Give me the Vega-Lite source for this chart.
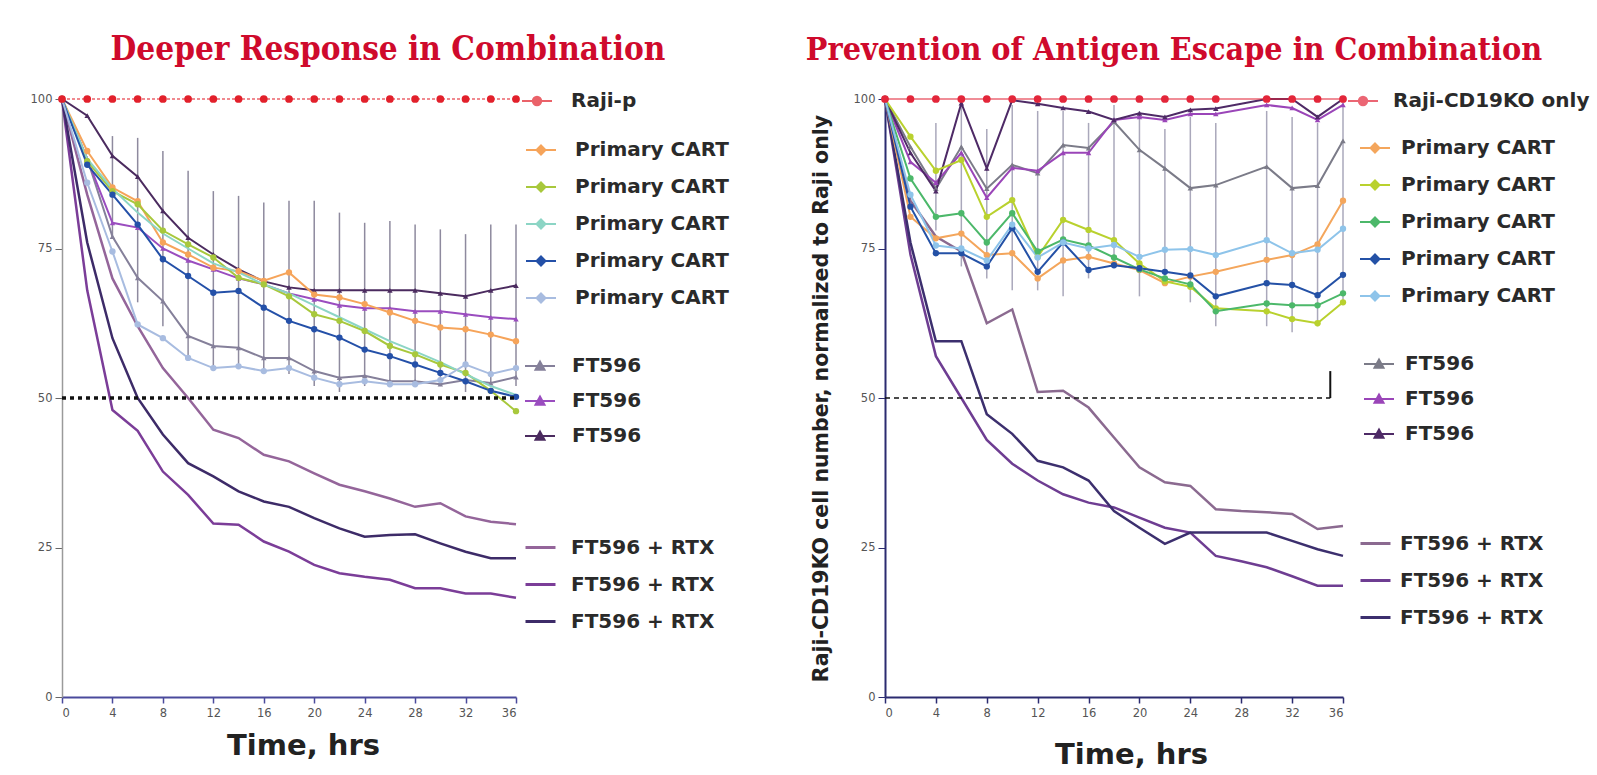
{
"$schema":"https://vega.github.io/schema/vega-lite/v6.json",
"padding":{"left":30,"top":34,"right":0,"bottom":0},
"background":"white",
"spacing":76,
"config":{
 "view":{"stroke":null},
 "axis":{"grid":false,"labelFont":"DejaVu Sans","labelFontSize":11.5,"labelColor":"#555","titleFont":"DejaVu Sans","titleFontWeight":"bold","titleColor":"#222"},
 "legend":{"labelFont":"DejaVu Sans","labelFontWeight":"bold","labelFontSize":20,"labelColor":"#2a2a2a","padding":0,"labelLimit":400},
 "title":{"font":"DejaVu Serif Condensed","fontWeight":"bold","fontSize":32,"color":"#cf0a2c"}
},
"datasets":{
"left":[
{"s":"Raji","t":0,"v":100},{"s":"Raji","t":2,"v":100},{"s":"Raji","t":4,"v":100},{"s":"Raji","t":6,"v":100},{"s":"Raji","t":8,"v":100},{"s":"Raji","t":10,"v":100},{"s":"Raji","t":12,"v":100},{"s":"Raji","t":14,"v":100},{"s":"Raji","t":16,"v":100},{"s":"Raji","t":18,"v":100},{"s":"Raji","t":20,"v":100},{"s":"Raji","t":22,"v":100},{"s":"Raji","t":24,"v":100},{"s":"Raji","t":26,"v":100},{"s":"Raji","t":28,"v":100},{"s":"Raji","t":30,"v":100},{"s":"Raji","t":32,"v":100},{"s":"Raji","t":34,"v":100},{"s":"Raji","t":36,"v":100},
{"s":"CART1","t":0,"v":100},{"s":"CART1","t":2,"v":91.3},{"s":"CART1","t":4,"v":85.2},{"s":"CART1","t":6,"v":82.9},{"s":"CART1","t":8,"v":76},{"s":"CART1","t":10,"v":74},{"s":"CART1","t":12,"v":71.8},{"s":"CART1","t":14,"v":71.2},{"s":"CART1","t":16,"v":69.6},{"s":"CART1","t":18,"v":71},{"s":"CART1","t":20,"v":67.3},{"s":"CART1","t":22,"v":66.8},{"s":"CART1","t":24,"v":65.7},{"s":"CART1","t":26,"v":64.3},{"s":"CART1","t":28,"v":62.9},{"s":"CART1","t":30,"v":61.8},{"s":"CART1","t":32,"v":61.5},{"s":"CART1","t":34,"v":60.6},{"s":"CART1","t":36,"v":59.5},
{"s":"CART2","t":0,"v":100},{"s":"CART2","t":2,"v":89.6},{"s":"CART2","t":4,"v":84.6},{"s":"CART2","t":6,"v":82.4},{"s":"CART2","t":8,"v":78},{"s":"CART2","t":10,"v":75.7},{"s":"CART2","t":12,"v":73.5},{"s":"CART2","t":14,"v":70.1},{"s":"CART2","t":16,"v":69},{"s":"CART2","t":18,"v":67},{"s":"CART2","t":20,"v":64},{"s":"CART2","t":22,"v":62.9},{"s":"CART2","t":24,"v":61.2},{"s":"CART2","t":26,"v":58.7},{"s":"CART2","t":28,"v":57.3},{"s":"CART2","t":30,"v":55.6},{"s":"CART2","t":32,"v":54.2},{"s":"CART2","t":34,"v":51.2},{"s":"CART2","t":36,"v":47.8},
{"s":"CART3","t":0,"v":100},{"s":"CART3","t":2,"v":90},{"s":"CART3","t":4,"v":85},{"s":"CART3","t":6,"v":81},{"s":"CART3","t":8,"v":77.5},{"s":"CART3","t":10,"v":75},{"s":"CART3","t":12,"v":72.5},{"s":"CART3","t":14,"v":71},{"s":"CART3","t":16,"v":69},{"s":"CART3","t":18,"v":67.5},{"s":"CART3","t":20,"v":65.5},{"s":"CART3","t":22,"v":63.5},{"s":"CART3","t":24,"v":61.5},{"s":"CART3","t":26,"v":59.5},{"s":"CART3","t":28,"v":57.8},{"s":"CART3","t":30,"v":56},{"s":"CART3","t":32,"v":54},{"s":"CART3","t":34,"v":52},{"s":"CART3","t":36,"v":50.5},
{"s":"CART4","t":0,"v":100},{"s":"CART4","t":2,"v":89},{"s":"CART4","t":4,"v":84},{"s":"CART4","t":6,"v":79},{"s":"CART4","t":8,"v":73.2},{"s":"CART4","t":10,"v":70.4},{"s":"CART4","t":12,"v":67.6},{"s":"CART4","t":14,"v":67.9},{"s":"CART4","t":16,"v":65.1},{"s":"CART4","t":18,"v":62.9},{"s":"CART4","t":20,"v":61.5},{"s":"CART4","t":22,"v":60.1},{"s":"CART4","t":24,"v":58.1},{"s":"CART4","t":26,"v":57},{"s":"CART4","t":28,"v":55.6},{"s":"CART4","t":30,"v":54.2},{"s":"CART4","t":32,"v":52.8},{"s":"CART4","t":34,"v":51.2},{"s":"CART4","t":36,"v":50.2},
{"s":"CART5","t":0,"v":100},{"s":"CART5","t":2,"v":86},{"s":"CART5","t":4,"v":74.5},{"s":"CART5","t":6,"v":62.3},{"s":"CART5","t":8,"v":60},{"s":"CART5","t":10,"v":56.7},{"s":"CART5","t":12,"v":55},{"s":"CART5","t":14,"v":55.3},{"s":"CART5","t":16,"v":54.5},{"s":"CART5","t":18,"v":55},{"s":"CART5","t":20,"v":53.4},{"s":"CART5","t":22,"v":52.3},{"s":"CART5","t":24,"v":52.8},{"s":"CART5","t":26,"v":52.3},{"s":"CART5","t":28,"v":52.3},{"s":"CART5","t":30,"v":53},{"s":"CART5","t":32,"v":55.6},{"s":"CART5","t":34,"v":54},{"s":"CART5","t":36,"v":55},
{"s":"FT1","t":0,"v":100},{"s":"FT1","t":2,"v":90},{"s":"FT1","t":4,"v":77},{"s":"FT1","t":6,"v":70.1},{"s":"FT1","t":8,"v":66.2},{"s":"FT1","t":10,"v":60.4},{"s":"FT1","t":12,"v":58.7},{"s":"FT1","t":14,"v":58.4},{"s":"FT1","t":16,"v":56.7},{"s":"FT1","t":18,"v":56.7},{"s":"FT1","t":20,"v":54.5},{"s":"FT1","t":22,"v":53.4},{"s":"FT1","t":24,"v":53.7},{"s":"FT1","t":26,"v":52.8},{"s":"FT1","t":28,"v":52.8},{"s":"FT1","t":30,"v":52.3},{"s":"FT1","t":32,"v":53},{"s":"FT1","t":34,"v":52.5},{"s":"FT1","t":36,"v":53.5},
{"s":"FT2","t":0,"v":100},{"s":"FT2","t":2,"v":90},{"s":"FT2","t":4,"v":79.3},{"s":"FT2","t":6,"v":78.5},{"s":"FT2","t":8,"v":75},{"s":"FT2","t":10,"v":73},{"s":"FT2","t":12,"v":71.5},{"s":"FT2","t":14,"v":70},{"s":"FT2","t":16,"v":69},{"s":"FT2","t":18,"v":67.5},{"s":"FT2","t":20,"v":66.5},{"s":"FT2","t":22,"v":65.5},{"s":"FT2","t":24,"v":65},{"s":"FT2","t":26,"v":65},{"s":"FT2","t":28,"v":64.5},{"s":"FT2","t":30,"v":64.5},{"s":"FT2","t":32,"v":64},{"s":"FT2","t":34,"v":63.5},{"s":"FT2","t":36,"v":63.2},
{"s":"FT3","t":0,"v":100},{"s":"FT3","t":2,"v":97.2},{"s":"FT3","t":4,"v":90.5},{"s":"FT3","t":6,"v":87},{"s":"FT3","t":8,"v":81.3},{"s":"FT3","t":10,"v":76.8},{"s":"FT3","t":12,"v":74},{"s":"FT3","t":14,"v":71.5},{"s":"FT3","t":16,"v":69.5},{"s":"FT3","t":18,"v":68.5},{"s":"FT3","t":20,"v":68},{"s":"FT3","t":22,"v":68},{"s":"FT3","t":24,"v":68},{"s":"FT3","t":26,"v":68},{"s":"FT3","t":28,"v":68},{"s":"FT3","t":30,"v":67.5},{"s":"FT3","t":32,"v":67},{"s":"FT3","t":34,"v":68},{"s":"FT3","t":36,"v":68.8},
{"s":"RTX1","t":0,"v":100},{"s":"RTX1","t":2,"v":84},{"s":"RTX1","t":4,"v":70},{"s":"RTX1","t":6,"v":62},{"s":"RTX1","t":8,"v":55},{"s":"RTX1","t":10,"v":50},{"s":"RTX1","t":12,"v":44.7},{"s":"RTX1","t":14,"v":43.3},{"s":"RTX1","t":16,"v":40.5},{"s":"RTX1","t":18,"v":39.4},{"s":"RTX1","t":20,"v":37.4},{"s":"RTX1","t":22,"v":35.5},{"s":"RTX1","t":24,"v":34.4},{"s":"RTX1","t":26,"v":33.2},{"s":"RTX1","t":28,"v":31.8},{"s":"RTX1","t":30,"v":32.4},{"s":"RTX1","t":32,"v":30.2},{"s":"RTX1","t":34,"v":29.3},{"s":"RTX1","t":36,"v":28.9},
{"s":"RTX2","t":0,"v":100},{"s":"RTX2","t":2,"v":68},{"s":"RTX2","t":4,"v":48},{"s":"RTX2","t":6,"v":44.5},{"s":"RTX2","t":8,"v":37.7},{"s":"RTX2","t":10,"v":33.8},{"s":"RTX2","t":12,"v":29},{"s":"RTX2","t":14,"v":28.8},{"s":"RTX2","t":16,"v":26},{"s":"RTX2","t":18,"v":24.3},{"s":"RTX2","t":20,"v":22.1},{"s":"RTX2","t":22,"v":20.7},{"s":"RTX2","t":24,"v":20.1},{"s":"RTX2","t":26,"v":19.6},{"s":"RTX2","t":28,"v":18.2},{"s":"RTX2","t":30,"v":18.2},{"s":"RTX2","t":32,"v":17.3},{"s":"RTX2","t":34,"v":17.3},{"s":"RTX2","t":36,"v":16.6},
{"s":"RTX3","t":0,"v":100},{"s":"RTX3","t":2,"v":76},{"s":"RTX3","t":4,"v":60},{"s":"RTX3","t":6,"v":50},{"s":"RTX3","t":8,"v":43.9},{"s":"RTX3","t":10,"v":39.1},{"s":"RTX3","t":12,"v":36.9},{"s":"RTX3","t":14,"v":34.4},{"s":"RTX3","t":16,"v":32.7},{"s":"RTX3","t":18,"v":31.8},{"s":"RTX3","t":20,"v":29.9},{"s":"RTX3","t":22,"v":28.2},{"s":"RTX3","t":24,"v":26.8},{"s":"RTX3","t":26,"v":27.1},{"s":"RTX3","t":28,"v":27.2},{"s":"RTX3","t":30,"v":25.7},{"s":"RTX3","t":32,"v":24.3},{"s":"RTX3","t":34,"v":23.2},{"s":"RTX3","t":36,"v":23.2}
],
"leftErr":[
{"t":4,"lo":77,"hi":93.8},{"t":6,"lo":66,"hi":93.5},{"t":8,"lo":62,"hi":91.3},{"t":10,"lo":57,"hi":88},{"t":12,"lo":55,"hi":84.6},{"t":14,"lo":55,"hi":83.8},{"t":16,"lo":54,"hi":82.7},{"t":18,"lo":54,"hi":83},{"t":20,"lo":52,"hi":83},{"t":22,"lo":51,"hi":81},{"t":24,"lo":52,"hi":79.3},{"t":26,"lo":52,"hi":79.6},{"t":28,"lo":52,"hi":79},{"t":30,"lo":52,"hi":78.2},{"t":32,"lo":51,"hi":77.4},{"t":34,"lo":52,"hi":79},{"t":36,"lo":52,"hi":79}
],
"leftRef":[{"t0":0,"t1":36,"r":50}],
"right":[
{"s":"Raji","t":0,"v":100},{"s":"Raji","t":2,"v":100},{"s":"Raji","t":4,"v":100},{"s":"Raji","t":6,"v":100},{"s":"Raji","t":8,"v":100},{"s":"Raji","t":10,"v":100},{"s":"Raji","t":12,"v":100},{"s":"Raji","t":14,"v":100},{"s":"Raji","t":16,"v":100},{"s":"Raji","t":18,"v":100},{"s":"Raji","t":20,"v":100},{"s":"Raji","t":22,"v":100},{"s":"Raji","t":24,"v":100},{"s":"Raji","t":26,"v":100},{"s":"Raji","t":30,"v":100},{"s":"Raji","t":32,"v":100},{"s":"Raji","t":34,"v":100},{"s":"Raji","t":36,"v":100},
{"s":"CART1","t":0,"v":100},{"s":"CART1","t":2,"v":80.3},{"s":"CART1","t":4,"v":76.7},{"s":"CART1","t":6,"v":77.5},{"s":"CART1","t":8,"v":73.9},{"s":"CART1","t":10,"v":74.2},{"s":"CART1","t":12,"v":70},{"s":"CART1","t":14,"v":73},{"s":"CART1","t":16,"v":73.6},{"s":"CART1","t":18,"v":72.5},{"s":"CART1","t":20,"v":71.4},{"s":"CART1","t":22,"v":69.2},{"s":"CART1","t":24,"v":70.3},{"s":"CART1","t":26,"v":71.1},{"s":"CART1","t":30,"v":73.1},{"s":"CART1","t":32,"v":73.9},{"s":"CART1","t":34,"v":75.7},{"s":"CART1","t":36,"v":83},
{"s":"CART2","t":0,"v":100},{"s":"CART2","t":2,"v":93.7},{"s":"CART2","t":4,"v":88},{"s":"CART2","t":6,"v":89.8},{"s":"CART2","t":8,"v":80.3},{"s":"CART2","t":10,"v":83.1},{"s":"CART2","t":12,"v":73.6},{"s":"CART2","t":14,"v":79.8},{"s":"CART2","t":16,"v":78.1},{"s":"CART2","t":18,"v":76.4},{"s":"CART2","t":20,"v":72.5},{"s":"CART2","t":22,"v":69.5},{"s":"CART2","t":24,"v":68.6},{"s":"CART2","t":26,"v":65},{"s":"CART2","t":30,"v":64.5},{"s":"CART2","t":32,"v":63.2},{"s":"CART2","t":34,"v":62.5},{"s":"CART2","t":36,"v":66},
{"s":"CART3","t":0,"v":100},{"s":"CART3","t":2,"v":86.7},{"s":"CART3","t":4,"v":80.3},{"s":"CART3","t":6,"v":80.9},{"s":"CART3","t":8,"v":76},{"s":"CART3","t":10,"v":80.9},{"s":"CART3","t":12,"v":74.5},{"s":"CART3","t":14,"v":76.5},{"s":"CART3","t":16,"v":75.5},{"s":"CART3","t":18,"v":73.5},{"s":"CART3","t":20,"v":71.5},{"s":"CART3","t":22,"v":70},{"s":"CART3","t":24,"v":69},{"s":"CART3","t":26,"v":64.5},{"s":"CART3","t":30,"v":65.8},{"s":"CART3","t":32,"v":65.5},{"s":"CART3","t":34,"v":65.5},{"s":"CART3","t":36,"v":67.5},
{"s":"CART4","t":0,"v":100},{"s":"CART4","t":2,"v":82},{"s":"CART4","t":4,"v":74.2},{"s":"CART4","t":6,"v":74.2},{"s":"CART4","t":8,"v":72},{"s":"CART4","t":10,"v":78.4},{"s":"CART4","t":12,"v":71.1},{"s":"CART4","t":14,"v":76},{"s":"CART4","t":16,"v":71.4},{"s":"CART4","t":18,"v":72.2},{"s":"CART4","t":20,"v":71.7},{"s":"CART4","t":22,"v":71.1},{"s":"CART4","t":24,"v":70.5},{"s":"CART4","t":26,"v":67},{"s":"CART4","t":30,"v":69.2},{"s":"CART4","t":32,"v":68.9},{"s":"CART4","t":34,"v":67.2},{"s":"CART4","t":36,"v":70.6},
{"s":"CART5","t":0,"v":100},{"s":"CART5","t":2,"v":84},{"s":"CART5","t":4,"v":75.5},{"s":"CART5","t":6,"v":75},{"s":"CART5","t":8,"v":73},{"s":"CART5","t":10,"v":79},{"s":"CART5","t":12,"v":73.5},{"s":"CART5","t":14,"v":76},{"s":"CART5","t":16,"v":75},{"s":"CART5","t":18,"v":75.6},{"s":"CART5","t":20,"v":73.6},{"s":"CART5","t":22,"v":74.8},{"s":"CART5","t":24,"v":74.9},{"s":"CART5","t":26,"v":73.9},{"s":"CART5","t":30,"v":76.4},{"s":"CART5","t":32,"v":74.2},{"s":"CART5","t":34,"v":74.8},{"s":"CART5","t":36,"v":78.3},
{"s":"FT1","t":0,"v":100},{"s":"FT1","t":2,"v":92},{"s":"FT1","t":4,"v":85},{"s":"FT1","t":6,"v":92},{"s":"FT1","t":8,"v":85},{"s":"FT1","t":10,"v":89},{"s":"FT1","t":12,"v":87.6},{"s":"FT1","t":14,"v":92.3},{"s":"FT1","t":16,"v":91.8},{"s":"FT1","t":18,"v":96.2},{"s":"FT1","t":20,"v":91.5},{"s":"FT1","t":22,"v":88.4},{"s":"FT1","t":24,"v":85.1},{"s":"FT1","t":26,"v":85.6},{"s":"FT1","t":30,"v":88.7},{"s":"FT1","t":32,"v":85.1},{"s":"FT1","t":34,"v":85.5},{"s":"FT1","t":36,"v":93},
{"s":"FT2","t":0,"v":100},{"s":"FT2","t":2,"v":89.5},{"s":"FT2","t":4,"v":86},{"s":"FT2","t":6,"v":91},{"s":"FT2","t":8,"v":83.5},{"s":"FT2","t":10,"v":88.5},{"s":"FT2","t":12,"v":88},{"s":"FT2","t":14,"v":91},{"s":"FT2","t":16,"v":91},{"s":"FT2","t":18,"v":96.5},{"s":"FT2","t":20,"v":97},{"s":"FT2","t":22,"v":96.5},{"s":"FT2","t":24,"v":97.5},{"s":"FT2","t":26,"v":97.5},{"s":"FT2","t":30,"v":99},{"s":"FT2","t":32,"v":98.5},{"s":"FT2","t":34,"v":96.5},{"s":"FT2","t":36,"v":99},
{"s":"FT3","t":0,"v":100},{"s":"FT3","t":2,"v":91},{"s":"FT3","t":4,"v":84.6},{"s":"FT3","t":6,"v":99.3},{"s":"FT3","t":8,"v":88.4},{"s":"FT3","t":10,"v":99.8},{"s":"FT3","t":12,"v":99.2},{"s":"FT3","t":14,"v":98.5},{"s":"FT3","t":16,"v":97.9},{"s":"FT3","t":18,"v":96.5},{"s":"FT3","t":20,"v":97.6},{"s":"FT3","t":22,"v":97},{"s":"FT3","t":24,"v":98.2},{"s":"FT3","t":26,"v":98.4},{"s":"FT3","t":30,"v":100},{"s":"FT3","t":32,"v":100},{"s":"FT3","t":34,"v":97},{"s":"FT3","t":36,"v":100},
{"s":"RTX1","t":0,"v":100},{"s":"RTX1","t":2,"v":83},{"s":"RTX1","t":4,"v":77},{"s":"RTX1","t":6,"v":74.5},{"s":"RTX1","t":8,"v":62.5},{"s":"RTX1","t":10,"v":64.8},{"s":"RTX1","t":12,"v":51},{"s":"RTX1","t":14,"v":51.2},{"s":"RTX1","t":16,"v":48.4},{"s":"RTX1","t":18,"v":43.4},{"s":"RTX1","t":20,"v":38.4},{"s":"RTX1","t":22,"v":35.9},{"s":"RTX1","t":24,"v":35.3},{"s":"RTX1","t":26,"v":31.4},{"s":"RTX1","t":28,"v":31.1},{"s":"RTX1","t":30,"v":30.9},{"s":"RTX1","t":32,"v":30.6},{"s":"RTX1","t":34,"v":28.1},{"s":"RTX1","t":36,"v":28.6},
{"s":"RTX2","t":0,"v":100},{"s":"RTX2","t":2,"v":74},{"s":"RTX2","t":4,"v":57},{"s":"RTX2","t":6,"v":50},{"s":"RTX2","t":8,"v":43},{"s":"RTX2","t":10,"v":39},{"s":"RTX2","t":12,"v":36.2},{"s":"RTX2","t":14,"v":33.9},{"s":"RTX2","t":16,"v":32.5},{"s":"RTX2","t":18,"v":31.7},{"s":"RTX2","t":20,"v":30},{"s":"RTX2","t":22,"v":28.3},{"s":"RTX2","t":24,"v":27.5},{"s":"RTX2","t":26,"v":23.6},{"s":"RTX2","t":28,"v":22.7},{"s":"RTX2","t":30,"v":21.7},{"s":"RTX2","t":32,"v":20.2},{"s":"RTX2","t":34,"v":18.6},{"s":"RTX2","t":36,"v":18.6},
{"s":"RTX3","t":0,"v":100},{"s":"RTX3","t":2,"v":76},{"s":"RTX3","t":4,"v":59.5},{"s":"RTX3","t":6,"v":59.5},{"s":"RTX3","t":8,"v":47.3},{"s":"RTX3","t":10,"v":44},{"s":"RTX3","t":12,"v":39.5},{"s":"RTX3","t":14,"v":38.4},{"s":"RTX3","t":16,"v":36.2},{"s":"RTX3","t":18,"v":31.1},{"s":"RTX3","t":20,"v":28.3},{"s":"RTX3","t":22,"v":25.6},{"s":"RTX3","t":24,"v":27.5},{"s":"RTX3","t":26,"v":27.5},{"s":"RTX3","t":28,"v":27.5},{"s":"RTX3","t":30,"v":27.5},{"s":"RTX3","t":32,"v":26.1},{"s":"RTX3","t":34,"v":24.7},{"s":"RTX3","t":36,"v":23.6}
],
"rightErr":[
{"t":4,"lo":78,"hi":96},{"t":6,"lo":72,"hi":99},{"t":8,"lo":70,"hi":95},{"t":10,"lo":68,"hi":99},{"t":12,"lo":68,"hi":98},{"t":14,"lo":67,"hi":98},{"t":16,"lo":70,"hi":96},{"t":18,"lo":72,"hi":99},{"t":20,"lo":67,"hi":98},{"t":22,"lo":69,"hi":95},{"t":24,"lo":66,"hi":97},{"t":26,"lo":62,"hi":96},{"t":30,"lo":62,"hi":98},{"t":32,"lo":61,"hi":97},{"t":34,"lo":62,"hi":96},{"t":36,"lo":66,"hi":100}
],
"rightRef":[{"t0":0,"t1":35,"r":50}],
"rightTick":[{"t0":35,"lo":50,"hi":54.5}]
},
"resolve":{"scale":{"color":"independent"},"legend":{"color":"independent"}},
"hconcat":[
{
 "width":454,"height":598,
 "title":{"text":"Deeper Response in Combination","anchor":"middle","dx":99,"offset":18,"fontSize":33},
 "data":{"name":"left"},
 "resolve":{"scale":{"color":"independent"},"legend":{"color":"independent"}},
 "encoding":{
  "x":{"field":"t","type":"quantitative","scale":{"domain":[0,36],"nice":false},"axis":{"values":[0,4,8,12,16,20,24,28,32,36],"title":"Time, hrs","titleFontSize":29,"titlePadding":13,"titleX":241,"domainColor":"#4a4a9c","domainWidth":2,"tickColor":"#4a4a9c","tickWidth":1.5,"tickSize":6,"labelPadding":4}},
  "y":{"field":"v","type":"quantitative","scale":{"domain":[0,100],"nice":false},"axis":{"values":[0,25,50,75,100],"title":null,"domainColor":"#9a9a9a","domainWidth":1.5,"tickColor":"#666","tickSize":7,"labelPadding":3}}
 },
 "layer":[
  {"data":{"name":"leftErr"},"mark":{"type":"rule","color":"#8e8a9e","strokeWidth":1.5},
   "encoding":{"y":{"field":"lo","type":"quantitative"},"y2":{"field":"hi"}}},
  {"transform":[{"filter":"indexof(datum.s,'RTX')===0"}],
   "mark":{"type":"line","strokeWidth":2.5},
   "encoding":{"color":{"field":"s","type":"nominal","title":null,"scale":{"domain":["RTX1","RTX2","RTX3"],"range":["#94659a","#7b3d98","#3d2b68"]},
     "legend":{"orient":"none","legendX":462,"legendY":432,"symbolType":"stroke","symbolSize":900,"symbolStrokeWidth":3,"rowPadding":10,"labelOffset":14,"labelExpr":"'FT596 + RTX'"}}}},
  {"transform":[{"filter":"indexof(datum.s,'FT')===0"}],
   "encoding":{"color":{"field":"s","type":"nominal","title":null,"scale":{"domain":["FT1","FT2","FT3"],"range":["#85809a","#9a4dbf","#4b2b5f"]},
     "legend":{"orient":"none","legendX":462,"legendY":251,"symbolType":"M-1,0H1M-0.3,0.25L0,-0.3L0.3,0.25Z","symbolSize":900,"symbolStrokeWidth":2,"rowPadding":9,"labelOffset":16,"labelExpr":"'FT596'"}}},
   "layer":[{"mark":{"type":"line","strokeWidth":2}},{"mark":{"type":"point","filled":true,"size":30,"shape":"triangle-up","opacity":1}}]},
  {"transform":[{"filter":"indexof(datum.s,'CART')===0"}],
   "encoding":{"color":{"field":"s","type":"nominal","title":null,"scale":{"domain":["CART1","CART2","CART3","CART4","CART5"],"range":["#f6a45a","#a8c83c","#8cd5c5","#2450a8","#a8bce0"]},
     "legend":{"orient":"none","legendX":463,"legendY":35,"symbolType":"M-1,0H1M0,-0.3L0.3,0L0,0.3L-0.3,0Z","symbolSize":900,"symbolStrokeWidth":2,"rowPadding":11,"labelOffset":18,"labelExpr":"'Primary CART'"}}},
   "layer":[{"mark":{"type":"line","strokeWidth":2}},{"transform":[{"filter":"datum.s!=='CART3'"}],"mark":{"type":"point","filled":true,"size":40,"opacity":1}}]},
  {"transform":[{"filter":"datum.s==='Raji'"}],
   "encoding":{"color":{"field":"s","type":"nominal","title":null,"scale":{"domain":["Raji"],"range":["#e2202b"]},
     "legend":{"orient":"none","legendX":459,"legendY":-14,"symbolType":"M-1,0H1M-0.28,0A0.28,0.28,0,1,1,0.28,0A0.28,0.28,0,1,1,-0.28,0Z","symbolSize":900,"symbolStrokeWidth":2,"labelOffset":18,"labelExpr":"'Raji-p'"}}},
   "layer":[{"mark":{"type":"line","strokeWidth":1.5,"strokeDash":[3,2],"opacity":0.7}},{"mark":{"type":"point","filled":true,"size":60,"opacity":1}}]},
  {"data":{"name":"leftRef"},"mark":{"type":"rule","color":"#111","strokeWidth":3.5,"strokeDash":[4,4]},
   "encoding":{"y":{"field":"r","type":"quantitative"},"x":{"field":"t0","type":"quantitative"},"x2":{"field":"t1"}}}
 ]
},
{
 "width":458,"height":598,
 "title":{"text":"Prevention of Antigen Escape in Combination","anchor":"middle","dx":60,"offset":18,"fontSize":32},
 "data":{"name":"right"},
 "resolve":{"scale":{"color":"independent"},"legend":{"color":"independent"}},
 "encoding":{
  "x":{"field":"t","type":"quantitative","scale":{"domain":[0,36],"nice":false},"axis":{"values":[0,4,8,12,16,20,24,28,32,36],"title":"Time, hrs","titleFontSize":29,"titlePadding":22,"titleX":246,"domainColor":"#2b2b70","domainWidth":2,"tickColor":"#2b2b70","tickWidth":1.5,"tickSize":6,"labelPadding":4}},
  "y":{"field":"v","type":"quantitative","scale":{"domain":[0,100],"nice":false},"axis":{"values":[0,25,50,75,100],"title":"Raji-CD19KO cell number, normalized to Raji only","titleFontSize":20.5,"titlePadding":22,"domainColor":"#2b2b70","domainWidth":2,"tickColor":"#2b2b70","tickSize":7,"labelPadding":3}}
 },
 "layer":[
  {"data":{"name":"rightErr"},"mark":{"type":"rule","color":"#aaa8bb","strokeWidth":1.5},
   "encoding":{"y":{"field":"lo","type":"quantitative"},"y2":{"field":"hi"}}},
  {"transform":[{"filter":"indexof(datum.s,'RTX')===0"}],
   "mark":{"type":"line","strokeWidth":2.5},
   "encoding":{"color":{"field":"s","type":"nominal","title":null,"scale":{"domain":["RTX1","RTX2","RTX3"],"range":["#8b6a90","#6e3d92","#3c2f6e"]},
     "legend":{"orient":"none","legendX":474,"legendY":428,"symbolType":"stroke","symbolSize":900,"symbolStrokeWidth":3,"rowPadding":10,"labelOffset":8,"labelExpr":"'FT596 + RTX'"}}}},
  {"transform":[{"filter":"indexof(datum.s,'FT')===0"}],
   "encoding":{"color":{"field":"s","type":"nominal","title":null,"scale":{"domain":["FT1","FT2","FT3"],"range":["#7b7b88","#9a45b8","#4e2a66"]},
     "legend":{"orient":"none","legendX":478,"legendY":249,"symbolType":"M-1,0H1M-0.3,0.25L0,-0.3L0.3,0.25Z","symbolSize":900,"symbolStrokeWidth":2,"rowPadding":9,"labelOffset":10,"labelExpr":"'FT596'"}}},
   "layer":[{"mark":{"type":"line","strokeWidth":2}},{"mark":{"type":"point","filled":true,"size":30,"shape":"triangle-up","opacity":1}}]},
  {"transform":[{"filter":"indexof(datum.s,'CART')===0"}],
   "encoding":{"color":{"field":"s","type":"nominal","title":null,"scale":{"domain":["CART1","CART2","CART3","CART4","CART5"],"range":["#f4a65c","#b9d12e","#4cb86a","#2451a6","#8ec4ea"]},
     "legend":{"orient":"none","legendX":474,"legendY":33,"symbolType":"M-1,0H1M0,-0.3L0.3,0L0,0.3L-0.3,0Z","symbolSize":900,"symbolStrokeWidth":2,"rowPadding":11,"labelOffset":10,"labelExpr":"'Primary CART'"}}},
   "layer":[{"mark":{"type":"line","strokeWidth":2}},{"mark":{"type":"point","filled":true,"size":40,"opacity":1}}]},
  {"transform":[{"filter":"datum.s==='Raji'"}],
   "encoding":{"color":{"field":"s","type":"nominal","title":null,"scale":{"domain":["Raji"],"range":["#e3263a"]},
     "legend":{"orient":"none","legendX":462,"legendY":-14,"symbolType":"M-1,0H1M-0.28,0A0.28,0.28,0,1,1,0.28,0A0.28,0.28,0,1,1,-0.28,0Z","symbolSize":900,"symbolStrokeWidth":2,"labelOffset":14,"labelFontSize":20,"labelExpr":"'Raji-CD19KO only'"}}},
   "layer":[{"mark":{"type":"line","strokeWidth":1.5,"opacity":0.7}},{"mark":{"type":"point","filled":true,"size":60,"opacity":1}}]},
  {"data":{"name":"rightRef"},"mark":{"type":"rule","color":"#111","strokeWidth":1.5,"strokeDash":[5,4]},
   "encoding":{"y":{"field":"r","type":"quantitative"},"x":{"field":"t0","type":"quantitative"},"x2":{"field":"t1"}}},
  {"data":{"name":"rightTick"},"mark":{"type":"rule","color":"#111","strokeWidth":2},
   "encoding":{"x":{"field":"t0","type":"quantitative"},"y":{"field":"lo","type":"quantitative"},"y2":{"field":"hi"}}}
 ]
}
]
}
